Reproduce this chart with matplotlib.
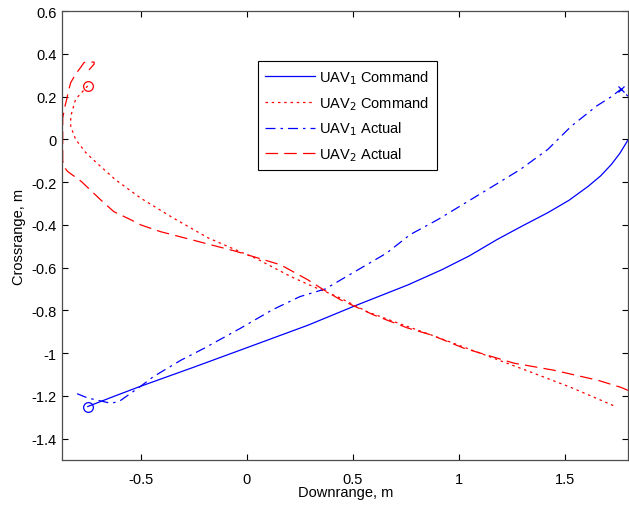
import matplotlib
matplotlib.use("Agg")
import matplotlib.pyplot as plt

plt.rcParams['font.family'] = ['Liberation Sans', 'DejaVu Sans']

# UAV 1 commanded path (solid blue)
uav1_cmd_x = [-0.75, -0.62, -0.50, -0.25, 0.0, 0.29, 0.51, 0.76, 0.92, 1.05, 1.18, 1.30, 1.42, 1.52, 1.61, 1.67, 1.72, 1.76, 1.80]
uav1_cmd_y = [-1.25, -1.20, -1.155, -1.066, -0.975, -0.869, -0.779, -0.681, -0.61, -0.545, -0.469, -0.405, -0.343, -0.285, -0.22, -0.17, -0.117, -0.065, 0.0]

# UAV 1 actual path (dash-dot blue)
uav1_act_x = [-0.80, -0.75, -0.64, -0.60, -0.56, -0.50, -0.44, -0.31, -0.20, -0.03, 0.12, 0.25, 0.37,
              0.52, 0.66, 0.77, 0.90, 1.135, 1.29, 1.42, 1.53, 1.65, 1.72, 1.765, 1.80]
uav1_act_y = [-1.19, -1.21, -1.235, -1.225, -1.197, -1.155, -1.11, -1.033, -0.977, -0.884, -0.798, -0.736, -0.70,
              -0.613, -0.532, -0.446, -0.376, -0.235, -0.141, -0.047, 0.061, 0.156, 0.20, 0.235, 0.20]

# UAV 2 commanded path (dotted red)
uav2_cmd_x = [-0.75, -0.807, -0.83, -0.83, -0.807, -0.76, -0.71, -0.62, -0.50, -0.35, -0.184, -0.075, 0.05,
              0.21, 0.316, 0.43, 0.57, 0.712, 0.87, 1.10, 1.34, 1.528, 1.74]
uav2_cmd_y = [0.25, 0.188, 0.108, 0.06, 0.0, -0.061, -0.108, -0.188, -0.275, -0.366, -0.46, -0.507, -0.56,
              -0.643, -0.69, -0.737, -0.807, -0.859, -0.915, -1.0, -1.089, -1.16, -1.25]

# UAV 2 actual path (dashed red)
uav2_act_x = [-0.744, -0.72, -0.72, -0.767, -0.783, -0.807, -0.83, -0.841, -0.849, -0.857, -0.868, -0.868,
              -0.86, -0.845, -0.78, -0.69, -0.627, -0.547, -0.50, -0.406, -0.297, -0.17, -0.061, 0.033,
              0.16, 0.288, 0.363, 0.443, 0.60, 0.76, 0.87, 1.024, 1.26, 1.448, 1.656, 1.764, 1.80]
uav2_act_y = [0.325, 0.352, 0.362, 0.36, 0.337, 0.305, 0.266, 0.227, 0.188, 0.156, 0.10, -0.10,
              -0.13, -0.15, -0.197, -0.282, -0.338, -0.376, -0.40, -0.432, -0.46, -0.493, -0.521, -0.549,
              -0.587, -0.657, -0.704, -0.751, -0.822, -0.883, -0.915, -0.977, -1.047, -1.08, -1.127, -1.16, -1.175]

# start / end markers
start_x = [-0.75, -0.75]
start_y = [-1.25, 0.25]
end_x = [1.765]
end_y = [0.235]

xticks = [-0.5, 0, 0.5, 1, 1.5]
xtick_labels = ['-0.5', '0', '0.5', '1', '1.5']
yticks = [0.6, 0.4, 0.2, 0, -0.2, -0.4, -0.6, -0.8, -1, -1.2, -1.4]
ytick_labels = ['0.6', '0.4', '0.2', '0', '-0.2', '-0.4', '-0.6', '-0.8', '-1', '-1.2', '-1.4']

fig = plt.figure(figsize=(6.29, 5.06), dpi=100)
ax = fig.add_axes([0.099, 0.089, 0.900, 0.887])

lw = 0.9
ax.plot(uav1_cmd_x, uav1_cmd_y, color='blue', ls='-', lw=lw, label='UAV$_1$ Command')
ax.plot(uav2_cmd_x, uav2_cmd_y, color='red', ls=(0, (2, 3)), lw=lw, label='UAV$_2$ Command')
ax.plot(uav1_act_x, uav1_act_y, color='blue', ls=(0, (8, 4, 2, 4)), lw=lw, label='UAV$_1$ Actual')
ax.plot(uav2_act_x, uav2_act_y, color='red', ls=(0, (10, 5)), lw=lw, label='UAV$_2$ Actual')

ax.plot(start_x[0], start_y[0], 'o', mfc='none', mec='blue', ms=7, mew=0.9)
ax.plot(start_x[1], start_y[1], 'o', mfc='none', mec='red', ms=7, mew=0.9)
ax.plot(end_x, end_y, 'x', color='blue', ms=5, mew=0.9)

ax.set_xlim(-0.87, 1.8)
ax.set_ylim(-1.5, 0.6)
ax.set_xticks(xticks)
ax.set_xticklabels(xtick_labels)
ax.set_yticks(yticks)
ax.set_yticklabels(ytick_labels)
ax.tick_params(direction='in', length=4, width=0.8, labelsize=10.5, top=True, right=True)
ax.tick_params(axis='x', pad=9)
ax.tick_params(axis='y', pad=4)

for s in ax.spines.values():
    s.set_color('0.3')
    s.set_linewidth(0.9)

ax.set_xlabel('Downrange, m', fontsize=10.5, labelpad=-1)
ax.set_ylabel('Crossrange, m', fontsize=10.5, labelpad=4)

leg = ax.legend(loc='upper left', bbox_to_anchor=(0.346, 0.889), fontsize=10.5, fancybox=False,
                framealpha=1, edgecolor='black', handlelength=3.4, borderpad=0.5, labelspacing=0.55,
                handletextpad=0.3, borderaxespad=0)
leg.get_frame().set_linewidth(0.8)

fig.savefig('out.png', dpi=100)
